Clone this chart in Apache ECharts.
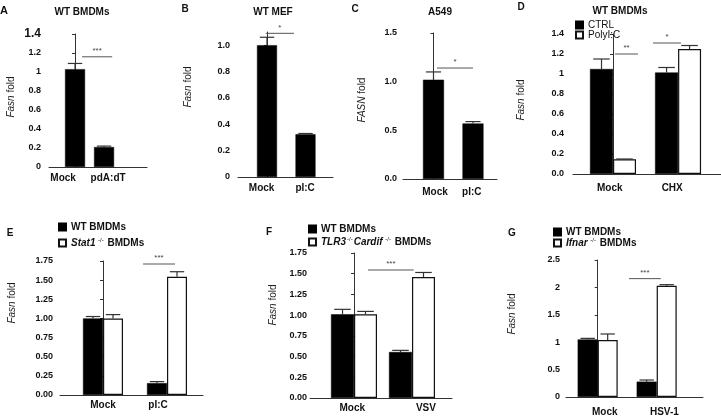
<!DOCTYPE html>
<html><head><meta charset="utf-8">
<script src="https://cdn.jsdelivr.net/npm/echarts@6/dist/echarts.min.js"></script>
<style>html,body{margin:0;padding:0;background:#fff}#c{width:721px;height:417px}</style>
</head><body><div id="c"></div>
<script>
// ---------- DATA ----------
// Panel A
const catsA = ['Mock', 'pdA:dT'];
const valsA = [1.03, 0.21];
const errA = [1.09, 0.22];
const ticksA = [0, 0.2, 0.4, 0.6, 0.8, 1, 1.2, 1.4];
const tickLabelsA = ['0', '0.2', '0.4', '0.6', '0.8', '1', '1.2', '1.4'];
const sigA = [[0.24, 1.28, 1.16]];
const sigTextA = ['***'];
// Panel B
const catsB = ['Mock', 'pI:C'];
const valsB = [1.0, 0.325];
const errB = [1.06, 0.33];
const ticksB = [0, 0.2, 0.4, 0.6, 0.8, 1.0];
const tickLabelsB = ['0', '0.2', '0.4', '0.6', '0.8', '1.0'];
const sigB = [[-0.03, 0.70, 1.09]];
const sigTextB = ['*'];
// Panel C
const catsC = ['Mock', 'pI:C'];
const valsC = [1.02, 0.57];
const errC = [1.10, 0.59];
const ticksC = [0, 0.5, 1.0, 1.5];
const tickLabelsC = ['0.0', '0.5', '1.0', '1.5'];
const sigC = [[0.09, 1.0, 1.14]];
const sigTextC = ['*'];
// Panel D
const catsD = ['Mock', 'CHX'];
const ctrlD = [1.05, 1.015];
const ctrlErrD = [1.15, 1.065];
const polyD = [0.147, 1.25];
const polyErrD = [0.15, 1.285];
const ticksD = [0, 0.2, 0.4, 0.6, 0.8, 1, 1.2, 1.4];
const tickLabelsD = ['0.0', '0.2', '0.4', '0.6', '0.8', '1', '1.2', '1.4'];
const sigD = [[0.03, 0.385, 1.2], [0.615, 1.046, 1.31]];
const sigTextD = ['**', '*'];
// Panel E
const catsE = ['Mock', 'pI:C'];
const wtE = [1.0, 0.155];
const wtErrE = [1.025, 0.175];
const stat1E = [1.0, 1.545];
const stat1ErrE = [1.05, 1.61];
const ticksE = [0, 0.25, 0.5, 0.75, 1.0, 1.25, 1.5, 1.75];
const tickLabelsE = ['0.00', '0.25', '0.50', '0.75', '1.00', '1.25', '1.50', '1.75'];
const sigE = [[0.625, 1.125, 1.71]];
const sigTextE = ['***'];
// Panel F
const catsF = ['Mock', 'VSV'];
const wtF = [1.01, 0.555];
const wtErrF = [1.07, 0.575];
const dkoF = [1.01, 1.46];
const dkoErrF = [1.045, 1.515];
const ticksF = [0, 0.25, 0.5, 0.75, 1.0, 1.25, 1.5, 1.75];
const tickLabelsF = ['0.00', '0.25', '0.50', '0.75', '1.00', '1.25', '1.50', '1.75'];
const sigF = [[0.24, 1.03, 1.545]];
const sigTextF = ['***'];
// Panel G
const catsG = ['Mock', 'HSV-1'];
const wtG = [1.05, 0.28];
const wtErrG = [1.07, 0.31];
const ifnarG = [1.04, 2.03];
const ifnarErrG = [1.15, 2.05];
const ticksG = [0, 0.5, 1, 1.5, 2, 2.5];
const tickLabelsG = ['0', '0.5', '1', '1.5', '2', '2.5'];
const sigG = [[0.53, 1.07, 2.16]];
const sigTextG = ['***'];

// ---------- LAYOUT ----------
const FONT = 'Liberation Sans, Arial, sans-serif';
const panels = [
  { grid: {left: 49, top: 34, width: 98, height: 133}, xMin: -0.897, xMax: 2.48, yMax: 1.4, barW: 20,
    cats: catsA, labelPos: [-0.41, 1.14], ticks: ticksA, tickLabels: tickLabelsA, sig: sigA, sigText: sigTextA, xMargin: 6, yMargin: 8, bigTop: true,
    series: [{name: 'A_bar', vals: valsA, err: errA, white: false}] },
  { grid: {left: 238, top: 32, width: 95, height: 145}, xMin: -0.753, xMax: 1.714, yMax: 1.1, barW: 20,
    cats: catsB, labelPos: [-0.14, 0.99], ticks: ticksB, tickLabels: tickLabelsB, sig: sigB, sigText: sigTextB, xMargin: 6, yMargin: 8,
    series: [{name: 'B_bar', vals: valsB, err: errB, white: false}] },
  { grid: {left: 403, top: 33, width: 94, height: 146}, xMin: -0.772, xMax: 1.608, yMax: 1.5, barW: 21,
    cats: catsC, labelPos: [0.04, 0.97], ticks: ticksC, tickLabels: tickLabelsC, sig: sigC, sigText: sigTextC, xMargin: 8, yMargin: 6,
    series: [{name: 'C_bar', vals: valsC, err: errC, white: false}] },
  { grid: {left: 573, top: 34, width: 148, height: 140}, xMin: -0.615, xMax: 1.66, yMax: 1.4, barW: 23,
    cats: catsD, labelPos: [-0.05, 0.91], ticks: ticksD, tickLabels: tickLabelsD, sig: sigD, sigText: sigTextD, xMargin: 9, yMargin: 9,
    series: [{name: 'CTRL', vals: ctrlD, err: ctrlErrD, white: false}, {name: 'PolyI:C', vals: polyD, err: polyErrD, white: true}] },
  { grid: {left: 60, top: 261, width: 143, height: 134}, xMin: -0.672, xMax: 1.5625, yMax: 1.75, barW: 20,
    cats: catsE, labelPos: [0, 0.86], ticks: ticksE, tickLabels: tickLabelsE, sig: sigE, sigText: sigTextE, xMargin: 5, yMargin: 7, sigLight: true,
    series: [{name: 'WT BMDMs', vals: wtE, err: wtErrE, white: false}, {name: 'Stat1', vals: stat1E, err: stat1ErrE, white: true}] },
  { grid: {left: 310, top: 253, width: 142, height: 145}, xMin: -0.759, xMax: 1.69, yMax: 1.75, barW: 23,
    cats: catsF, labelPos: [-0.03, 1.24], ticks: ticksF, tickLabels: tickLabelsF, sig: sigF, sigText: sigTextF, xMargin: 5, yMargin: 3,
    series: [{name: 'WT BMDMs', vals: wtF, err: wtErrF, white: false}, {name: 'TLR3Cardif', vals: dkoF, err: dkoErrF, white: true}] },
  { grid: {left: 566, top: 260, width: 137, height: 140}, xMin: -0.537, xMax: 1.785, yMax: 2.5, barW: 20,
    cats: catsG, labelPos: [0.12, 1.13], ticks: ticksG, tickLabels: tickLabelsG, sig: sigG, sigText: sigTextG, xMargin: 10, yMargin: 6,
    series: [{name: 'WT BMDMs', vals: wtG, err: wtErrG, white: false}, {name: 'Ifnar', vals: ifnarG, err: ifnarErrG, white: true}] }
];

const grids = [], xAxes = [], yAxes = [], series = [];
panels.forEach((p, pi) => {
  grids.push(Object.assign({containLabel: false}, p.grid));
  xAxes.push({
    type: 'value', gridIndex: pi, min: p.xMin, max: p.xMax,
    axisLine: {show: true, lineStyle: {color: '#333', width: 1}},
    axisTick: {show: false},
    splitLine: {show: false},
    axisLabel: {customValues: p.labelPos, margin: p.xMargin, showMinLabel: true, showMaxLabel: true, hideOverlap: false,
      formatter: v => {
        let k = p.labelPos.findIndex(t => Math.abs(t - v) < 1e-6);
        return k < 0 ? '' : p.cats[k];
      },
      fontFamily: FONT, fontWeight: 'bold', fontSize: 10, color: '#111'}
  });
  yAxes.push({
    type: 'value', gridIndex: pi, min: 0, max: p.yMax,
    axisLine: {show: true, lineStyle: {color: '#333', width: 1}},
    axisTick: {show: true, length: 3, lineStyle: {color: '#333'}, customValues: p.ticks},
    splitLine: {show: false},
    axisLabel: {customValues: p.ticks, margin: p.yMargin, showMinLabel: true, showMaxLabel: true, hideOverlap: false,
      formatter: v => {
        let k = p.ticks.findIndex(t => Math.abs(t - v) < 1e-6);
        if (k < 0) return '';
        const s = p.tickLabels[k];
        return (p.bigTop && k === p.ticks.length - 1) ? '{big|' + s + '}' : s;
      },
      fontFamily: FONT, fontWeight: 'bold', fontSize: 9, color: '#111',
      rich: {big: {fontFamily: FONT, fontWeight: 'bold', fontSize: 12, color: '#111'}}}
  });
  const grouped = p.series.length > 1;
  p.series.forEach((s, si) => {
    series.push({
      type: 'bar', name: s.name, xAxisIndex: pi, yAxisIndex: pi,
      barWidth: p.barW, barGap: '0%',
      itemStyle: s.white ? {color: '#fff', borderColor: '#111', borderWidth: 1.2} : {color: '#000', borderColor: '#000', borderWidth: 0.5},
      data: s.vals.map((v, i) => [i, v]),
      z: 2
    });
    const side = grouped ? (si === 0 ? -1 : 1) : 0;
    series.push({
      type: 'custom', name: s.name + '_err', xAxisIndex: pi, yAxisIndex: pi,
      encode: {x: 0, y: [1, 2]},
      data: s.vals.map((v, i) => [i, v, s.err[i]]),
      z: 3, silent: true,
      renderItem: (params, api) => {
        const a = api.coord([api.value(0), api.value(1)]);
        const b = api.coord([api.value(0), api.value(2)]);
        const x = a[0] + side * p.barW / 2;
        const cap = p.barW * 0.36;
        return {type: 'group', children: [
          {type: 'line', shape: {x1: x, y1: a[1], x2: x, y2: b[1]}, style: {stroke: '#333', lineWidth: 1.2}},
          {type: 'line', shape: {x1: x - cap, y1: b[1], x2: x + cap, y2: b[1]}, style: {stroke: '#333', lineWidth: 1.2}}
        ]};
      }
    });
  });
  series.push({
    type: 'custom', name: 'sig' + pi, xAxisIndex: pi, yAxisIndex: pi,
    encode: {x: [0, 1], y: 2},
    data: p.sig, z: 4, silent: true,
    renderItem: (params, api) => {
      const a = api.coord([api.value(0), api.value(2)]);
      const b = api.coord([api.value(1), api.value(2)]);
      return {type: 'group', children: [
        {type: 'line', shape: {x1: a[0], y1: a[1], x2: b[0], y2: b[1]},
          style: {stroke: p.sigLight ? '#aaa' : '#555', lineWidth: p.sigLight ? 2 : 1}},
        {type: 'text', x: (a[0] + b[0]) / 2, y: a[1] - 2,
          style: {text: p.sigText[params.dataIndex], align: 'center', verticalAlign: 'bottom',
            fontFamily: FONT, fontSize: 8, fill: '#444'}}
      ]};
    }
  });
});

const legRich = {
  b: {fontFamily: FONT, fontWeight: 'bold', fontSize: 10, color: '#111'},
  bi: {fontFamily: FONT, fontWeight: 'bold', fontStyle: 'italic', fontSize: 10, color: '#111'},
  sup: {fontFamily: FONT, fontSize: 6, color: '#111', padding: [0, 1, 6, 1]}
};
const legendNames = {
  'WT BMDMs': '{b|WT BMDMs}',
  'Stat1': '{bi|Stat1}{sup| -/-}{b| BMDMs}',
  'TLR3Cardif': '{bi|TLR3}{sup|-/-}{bi|Cardif}{sup| -/-}{b| BMDMs}',
  'Ifnar': '{bi|Ifnar}{sup| -/-}{b| BMDMs}'
};
function legendOf(left, top, gap, names) {
  return {left: left, top: top, orient: 'vertical', itemWidth: 7, itemHeight: 7, itemGap: gap, icon: 'rect',
    data: names, selectedMode: false, padding: 0,
    formatter: n => legendNames[n] || n,
    textStyle: {rich: legRich, fontFamily: FONT, fontSize: 10}};
}
const legends = [
  {left: 575, top: 20, orient: 'vertical', itemWidth: 7, itemHeight: 7, itemGap: 0, icon: 'rect',
    data: ['CTRL', 'PolyI:C'], selectedMode: false, padding: 0,
    textStyle: {fontFamily: FONT, fontSize: 10, color: '#111'}},
  legendOf(58, 222, 5, ['WT BMDMs', 'Stat1']),
  legendOf(308, 224, 2, ['WT BMDMs', 'TLR3Cardif']),
  legendOf(553, 227, 0, ['WT BMDMs', 'Ifnar'])
];

function txt(x, y, t, opts) {
  return {type: 'text', x: x, y: y, silent: true,
    style: Object.assign({text: t, align: 'center', verticalAlign: 'middle', fontFamily: FONT, fill: '#111'}, opts)};
}
const yNameRich = {i: {fontFamily: FONT, fontStyle: 'italic', fontSize: 10, fill: '#222'}, n: {fontFamily: FONT, fontSize: 10, fill: '#222'}};
function yName(x, y, gene) {
  return {type: 'text', x: x, y: y, rotation: Math.PI / 2, silent: true,
    style: {text: '{i|' + gene + '}{n| fold}', rich: yNameRich, align: 'center', verticalAlign: 'middle'}};
}
const graphics = [
  txt(4, 11, 'A', {fontWeight: 'bold', fontSize: 11}),
  txt(185, 9, 'B', {fontWeight: 'bold', fontSize: 10}),
  txt(355, 9, 'C', {fontWeight: 'bold', fontSize: 10}),
  txt(521, 7, 'D', {fontWeight: 'bold', fontSize: 10}),
  txt(10, 233, 'E', {fontWeight: 'bold', fontSize: 10}),
  txt(269, 232, 'F', {fontWeight: 'bold', fontSize: 10}),
  txt(512, 233, 'G', {fontWeight: 'bold', fontSize: 10}),
  txt(82, 12, 'WT BMDMs', {fontWeight: 'bold', fontSize: 10}),
  txt(273, 12, 'WT MEF', {fontWeight: 'bold', fontSize: 10}),
  txt(440, 12, 'A549', {fontWeight: 'bold', fontSize: 10}),
  txt(620, 11, 'WT BMDMs', {fontWeight: 'bold', fontSize: 10}),
  yName(11, 97, 'Fasn'),
  yName(188, 87, 'Fasn'),
  yName(362, 100, 'FASN'),
  yName(521, 100, 'Fasn'),
  yName(12, 303, 'Fasn'),
  yName(273, 305, 'Fasn'),
  yName(512, 314, 'Fasn')
];

const chart = echarts.init(document.getElementById('c'), null, {renderer: 'canvas'});
chart.setOption({
  animation: false,
  backgroundColor: '#fff',
  textStyle: {fontFamily: FONT},
  grid: grids, xAxis: xAxes, yAxis: yAxes, series: series,
  legend: legends, graphic: graphics
});
</script></body></html>
